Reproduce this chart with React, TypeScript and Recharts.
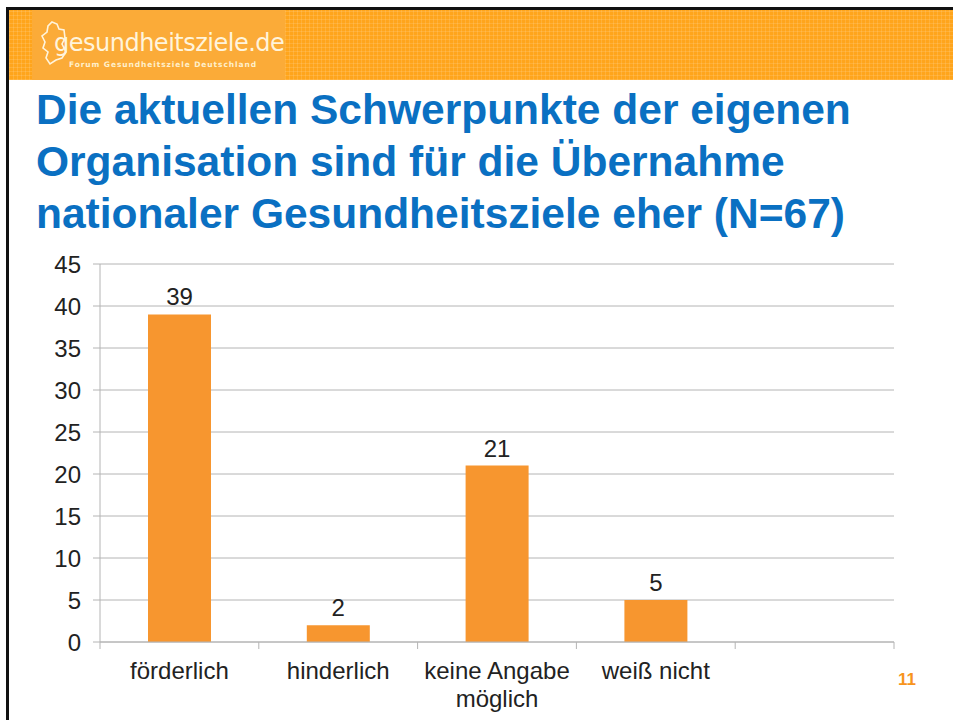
import React from "react";
import { BarChart, Bar, XAxis, YAxis, CartesianGrid, LabelList } from "recharts";

const categories = ["förderlich", "hinderlich", "keine Angabe\nmöglich", "weiß nicht", ""];
const counts: (number | null)[] = [39, 2, 21, 5, null];
const yTicks = [0, 5, 10, 15, 20, 25, 30, 35, 40, 45];
const titleLines = [
  "Die aktuellen Schwerpunkte der eigenen",
  "Organisation sind für die Übernahme",
  "nationaler Gesundheitsziele eher (N=67)",
];
const pageNumber = "11";

const data = categories.map((c, i) => ({ name: c, value: counts[i] }));

const CHART_W = 953;
const CHART_H = 720;
const MARGIN = { top: 264, right: 59, bottom: 20, left: 40 };
const YAXIS_W = 60;
const XAXIS_H = 58;
const PLOT_W = CHART_W - MARGIN.left - MARGIN.right - YAXIS_W;
const FONT = "'Liberation Sans', Arial, Helvetica, sans-serif";
const GRID = "#b4b4b4";

const XTick = (props: any) => {
  const { x, y, payload, index } = props;
  const band = PLOT_W / categories.length;
  const lines = String(payload.value).split("\n");
  const isLast = index === categories.length - 1;
  return (
    <g>
      <line x1={x - band / 2} x2={x - band / 2} y1={y} y2={y + 7} stroke={GRID} strokeWidth={1} />
      {isLast && (
        <line x1={x + band / 2} x2={x + band / 2} y1={y} y2={y + 7} stroke={GRID} strokeWidth={1} />
      )}
      <text x={x} y={y + 37} textAnchor="middle" fontSize={24} fill="#222" fontFamily={FONT}>
        {lines.map((l, i) => (
          <tspan key={i} x={x} dy={i === 0 ? 0 : 28}>
            {l}
          </tspan>
        ))}
      </text>
    </g>
  );
};

export default function App() {
  return (
    <div
      style={{
        position: "absolute",
        left: 0,
        top: 0,
        width: CHART_W,
        height: CHART_H,
        background: "#fff",
        overflow: "hidden",
        fontFamily: FONT,
      }}
    >
      {/* slide frame */}
      <div style={{ position: "absolute", left: 6, top: 7, width: 947, height: 3, background: "#111" }} />
      <div style={{ position: "absolute", left: 6, top: 7, width: 3, height: 713, background: "#111" }} />
      {/* orange header band */}
      <div
        style={{
          position: "absolute",
          left: 9,
          top: 10,
          width: 944,
          height: 70,
          background: "#ffa51c",
          backgroundImage:
            "repeating-linear-gradient(90deg, rgba(255,255,255,0.12) 0 1px, transparent 1px 4px), repeating-linear-gradient(0deg, rgba(255,255,255,0.12) 0 1px, transparent 1px 4px)",
        }}
      />
      <div
        style={{
          position: "absolute",
          left: 32,
          top: 10,
          width: 253,
          height: 70,
          background: "#fbab38",
        }}
      />
      <svg style={{ position: "absolute", left: 40, top: 18 }} width={30} height={50}>
        <path
          d="M12 4 L17 6 L19 11 L24 12 L25 20 L22 26 L26 34 L22 40 L16 42 L10 46 L6 40 L8 34 L3 30 L5 24 L2 18 L7 14 L8 8 Z"
          fill="none"
          stroke="#fff4dc"
          strokeWidth={1.6}
        />
      </svg>
      <div
        style={{
          position: "absolute",
          left: 54,
          top: 33,
          fontSize: 24,
          color: "#fff4dc",
          fontFamily: "'DejaVu Sans', Verdana, sans-serif",
          letterSpacing: -0.5,
          lineHeight: "20px",
          height: 20,
        }}
      >
        gesundheitsziele.de
      </div>
      <div
        style={{
          position: "absolute",
          left: 69,
          top: 60,
          fontSize: 7.5,
          fontWeight: "bold",
          color: "#fff0cc",
          letterSpacing: 0.9,
          lineHeight: "9px",
          fontFamily: "'DejaVu Sans', Verdana, sans-serif",
        }}
      >
        Forum Gesundheitsziele Deutschland
      </div>

      {/* title */}
      <div
        style={{
          position: "absolute",
          left: 36,
          top: 84,
          fontSize: 42.5,
          fontWeight: "bold",
          color: "#0a70c2",
          lineHeight: "52px",
          whiteSpace: "nowrap",
        }}
      >
        {titleLines.map((l, i) => (
          <div key={i}>{l}</div>
        ))}
      </div>

      <div style={{ position: "absolute", left: 0, top: 0 }}>
        <BarChart width={CHART_W} height={CHART_H} data={data} margin={MARGIN}>
          <CartesianGrid vertical={false} stroke={GRID} strokeWidth={1} />
          <XAxis
            dataKey="name"
            height={XAXIS_H}
            tickLine={false}
            tickSize={0}
            tickMargin={0}
            axisLine={{ stroke: GRID }}
            interval={0}
            tick={<XTick />}
          />
          <YAxis
            width={YAXIS_W}
            domain={[0, 45]}
            ticks={yTicks}
            interval={0}
            axisLine={{ stroke: GRID }}
            tickLine={{ stroke: GRID }}
            tickSize={7}
            tickMargin={12}
            tick={{ fontSize: 24, fill: "#222", fontFamily: FONT }}
          />
          <Bar dataKey="value" fill="#f7962f" barSize={63} isAnimationActive={false}>
            <LabelList
              dataKey="value"
              position="top"
              offset={9}
              fontSize={24}
              fill="#222"
              fontFamily={FONT}
              formatter={(v: any) => (v == null ? "" : v)}
            />
          </Bar>
        </BarChart>
      </div>

      <div
        style={{
          position: "absolute",
          left: 898,
          top: 670,
          fontSize: 17,
          fontWeight: "bold",
          color: "#f7941d",
        }}
      >
        {pageNumber}
      </div>
    </div>
  );
}
